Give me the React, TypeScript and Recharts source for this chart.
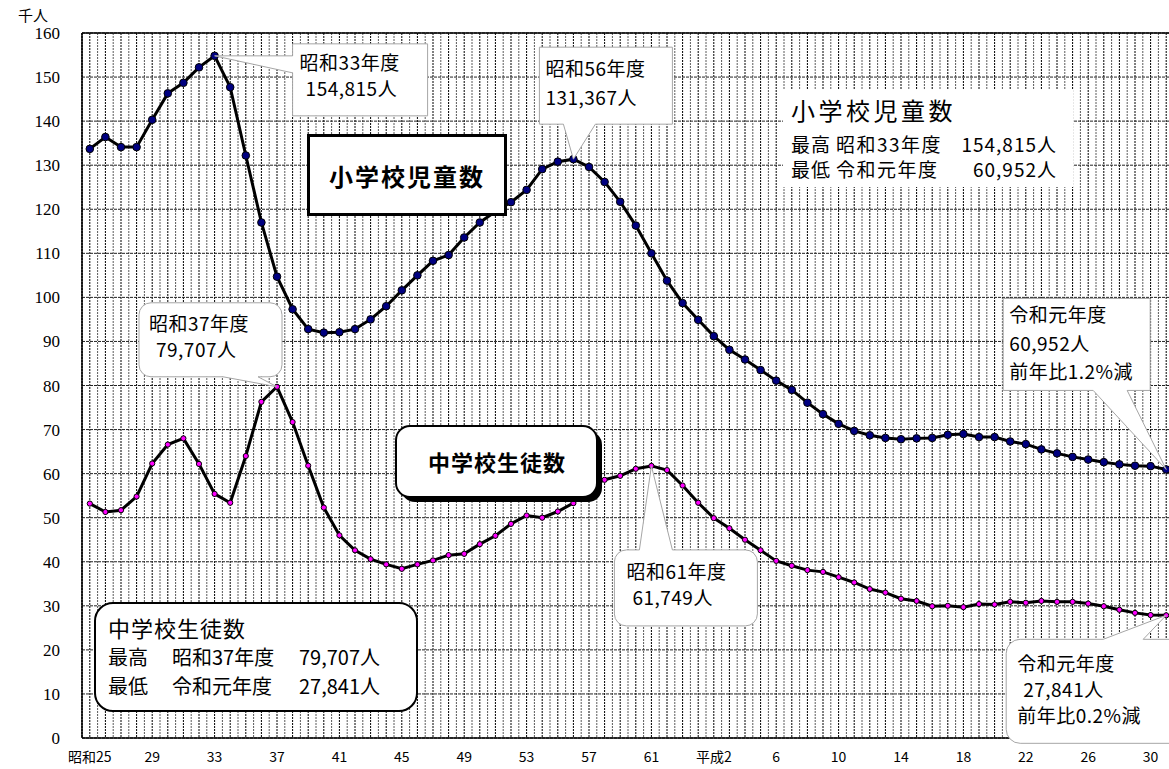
import React from "react";
import {
  LineChart, Line, XAxis, YAxis, CartesianGrid, ReferenceDot, ReferenceLine,
} from "recharts";

// 年度 (昭和25〜令和元)
const YEARS = [
  1950, 1951, 1952, 1953, 1954, 1955, 1956, 1957, 1958, 1959,
  1960, 1961, 1962, 1963, 1964, 1965, 1966, 1967, 1968, 1969,
  1970, 1971, 1972, 1973, 1974, 1975, 1976, 1977, 1978, 1979,
  1980, 1981, 1982, 1983, 1984, 1985, 1986, 1987, 1988, 1989,
  1990, 1991, 1992, 1993, 1994, 1995, 1996, 1997, 1998, 1999,
  2000, 2001, 2002, 2003, 2004, 2005, 2006, 2007, 2008, 2009,
  2010, 2011, 2012, 2013, 2014, 2015, 2016, 2017, 2018, 2019,
];

// 小学校児童数 (千人)
const ELEMENTARY = [
  133.7, 136.4, 134.1, 134.1, 140.3, 146.3, 148.7, 152.2, 154.815, 147.7,
  132.2, 117.0, 104.7, 97.3, 92.8, 92.0, 92.1, 92.8, 95.0, 98.0,
  101.6, 105.0, 108.3, 109.6, 113.6, 117.0, 119.5, 121.6, 124.4, 129.1,
  130.8, 131.367, 129.6, 126.2, 121.7, 116.3, 110.0, 103.8, 98.7, 94.9,
  91.2, 88.1, 85.9, 83.5, 81.1, 79.0, 76.1, 73.5, 71.3, 69.7,
  68.7, 68.1, 67.8, 68.0, 68.1, 68.8, 69.0, 68.3, 68.3, 67.3,
  66.7, 65.5, 64.6, 63.8, 63.2, 62.6, 62.1, 61.8, 61.7, 60.952,
];

// 中学校生徒数 (千人)
const JUNIOR_HIGH = [
  53.2, 51.3, 51.7, 54.8, 62.3, 66.6, 68.0, 62.2, 55.4, 53.4,
  64.0, 76.3, 79.707, 71.7, 61.8, 52.3, 46.0, 42.6, 40.6, 39.4,
  38.4, 39.4, 40.3, 41.5, 41.8, 44.0, 45.9, 48.6, 50.5, 50.0,
  51.4, 53.3, 57.0, 58.6, 59.5, 61.1, 61.749, 60.8, 57.3, 53.4,
  49.9, 47.6, 45.0, 42.6, 40.2, 39.1, 38.1, 37.7, 36.5, 35.3,
  33.8, 33.0, 31.6, 31.1, 29.9, 30.0, 29.7, 30.4, 30.3, 30.9,
  30.7, 31.1, 30.9, 30.9, 30.5, 29.9, 29.1, 28.4, 27.9, 27.841,
];

const TICK_YEARS = [1950, 1954, 1958, 1962, 1966, 1970, 1974, 1978, 1982, 1986, 1990, 1994, 1998, 2002, 2006, 2010, 2014, 2018];
const TICK_LABELS = ["昭和25", "29", "33", "37", "41", "45", "49", "53", "57", "61", "平成2", "6", "10", "14", "18", "22", "26", "30"];
const Y_TICKS = [0, 10, 20, 30, 40, 50, 60, 70, 80, 90, 100, 110, 120, 130, 140, 150, 160];

const HALF_YEARS = YEARS.map((y) => y - 0.5);

const data = YEARS.map((year, i) => ({ year, elem: ELEMENTARY[i], jhs: JUNIOR_HIGH[i] }));

const JP = "'Noto Sans CJK JP', 'Noto Sans', sans-serif";

// callouts anchored to data points; box offsets are relative to the point
const CALLOUTS = [
  { key: "s33", series: ELEMENTARY, year: 1958, box: { dx: 78, dy: -12, w: 135, h: 72, r: 0 }, side: "left", base: [0, 17],
    lines: [["昭和33年度", 7, 26], ["154,815人", 13, 52]] },
  { key: "s56", series: ELEMENTARY, year: 1981, box: { dx: -34, dy: -112, w: 133, h: 77, r: 0 }, side: "bottom", base: [-10, 22],
    lines: [["昭和56年度", 6, 29], ["131,367人", 6, 58]] },
  { key: "s37", series: JUNIOR_HIGH, year: 1962, box: { dx: -138, dy: -84, w: 143, h: 74, r: 12 }, side: "bottom", base: [-54, -19],
    lines: [["昭和37年度", 10, 28], ["79,707人", 17, 54]] },
  { key: "s61", series: JUNIOR_HIGH, year: 1986, box: { dx: -37, dy: 84, w: 143, h: 76, r: 12 }, side: "top", base: [-12, 21],
    lines: [["昭和61年度", 12, 29], ["61,749人", 18, 55]] },
  { key: "r1e", series: ELEMENTARY, year: 2019, box: { dx: -163, dy: -171, w: 147, h: 92, r: 0 }, side: "bottom", base: [-73, -39],
    lines: [["令和元年度", 6, 24], ["60,952人", 6, 53], ["前年比1.2%減", 6, 81]] },
  { key: "r1j", series: JUNIOR_HIGH, year: 2019, box: { dx: -160, dy: 24, w: 180, h: 104, r: 14 }, side: "top", base: [-63, -23],
    lines: [["令和元年度", 11, 32], ["27,841人", 17, 58], ["前年比0.2%減", 11, 84]] },
];

function calloutPath(x, y, w, h, r, side, a, b, tx, ty) {
  let d = `M ${x + r} ${y}`;
  if (side === "top") d += ` L ${a} ${y} L ${tx} ${ty} L ${b} ${y}`;
  d += ` L ${x + w - r} ${y}`;
  if (r) d += ` A ${r} ${r} 0 0 1 ${x + w} ${y + r}`;
  d += ` L ${x + w} ${y + h - r}`;
  if (r) d += ` A ${r} ${r} 0 0 1 ${x + w - r} ${y + h}`;
  if (side === "bottom") d += ` L ${b} ${y + h} L ${tx} ${ty} L ${a} ${y + h}`;
  d += ` L ${x + r} ${y + h}`;
  if (r) d += ` A ${r} ${r} 0 0 1 ${x} ${y + h - r}`;
  if (side === "left") d += ` L ${x} ${b} L ${tx} ${ty} L ${x} ${a}`;
  d += ` L ${x} ${y + r}`;
  if (r) d += ` A ${r} ${r} 0 0 1 ${x + r} ${y}`;
  return d + " Z";
}

function Callout({ cx, cy, c }) {
  const x = cx + c.box.dx;
  const y = cy + c.box.dy;
  const ref = c.side === "left" ? cy : cx;
  const d = calloutPath(x, y, c.box.w, c.box.h, c.box.r, c.side, ref + c.base[0], ref + c.base[1], cx, cy);
  return (
    <g>
      <path d={d} fill="#fff" stroke="#a6a6a6" strokeWidth={1} />
      {c.lines.map(([t, lx, ly]) => (
        <text key={t} x={x + lx} y={y + ly} fontFamily={JP} fontSize={19} letterSpacing={0.5} fill="#000">{t}</text>
      ))}
    </g>
  );
}

export default function App() {
  return (
    <div style={{ position: "absolute", left: 0, top: 0, width: 1169, height: 769, overflow: "hidden", background: "#fff" }}>
      <LineChart width={1180} height={769} data={data} margin={{ top: 33, right: 6, bottom: 6, left: 8 }}>
        {/* hidden axes that only feed the dense vertical grid */}
        <XAxis xAxisId="yr" type="number" dataKey="year" domain={[1949.5, 2019.5]} ticks={YEARS} interval={0} tickFormatter={() => ""} allowDataOverflow hide />
        <XAxis xAxisId="half" type="number" dataKey="year" domain={[1949.5, 2019.5]} ticks={HALF_YEARS} interval={0} tickFormatter={() => ""} allowDataOverflow hide />
        <CartesianGrid xAxisId="half" horizontal={false} stroke="#5a5a5a" strokeDasharray="2 1" />
        <CartesianGrid xAxisId="yr" horizontal={false} stroke="#000" strokeDasharray="2 1" />
        <CartesianGrid vertical={false} stroke="#222" strokeDasharray="3 1" />
        <XAxis
          type="number"
          dataKey="year"
          domain={[1949.5, 2019.5]}
          allowDataOverflow
          ticks={TICK_YEARS}
          interval={0}
          tickFormatter={(v) => TICK_LABELS[TICK_YEARS.indexOf(v)]}
          tick={{ fill: "#000", fontFamily: JP, fontSize: 14 }}
          tickLine={false}
          tickSize={0}
          tickMargin={14}
          height={25}
          axisLine={{ stroke: "#000", strokeWidth: 1.5 }}
        />
        <YAxis
          domain={[0, 160]}
          ticks={Y_TICKS}
          interval={0}
          width={74}
          tick={{ fill: "#000", fontFamily: "'Liberation Serif', serif", fontSize: 17 }}
          tickLine={false}
          tickSize={0}
          tickMargin={22}
          axisLine={{ stroke: "#000", strokeWidth: 1.5 }}
        />
        <ReferenceLine y={160} stroke="#000" strokeWidth={1.5} />
        <Line
          dataKey="elem"
          stroke="#000"
          strokeWidth={3}
          dot={{ r: 3.8, fill: "#000080", stroke: "#000", strokeWidth: 1 }}
          isAnimationActive={false}
        />
        <Line
          dataKey="jhs"
          stroke="#000"
          strokeWidth={3}
          dot={{ r: 2.6, fill: "#ff00ff", stroke: "#000", strokeWidth: 1 }}
          isAnimationActive={false}
        />
        {CALLOUTS.map((c) => (
          <ReferenceDot
            key={c.key}
            x={c.year}
            y={c.series[YEARS.indexOf(c.year)]}
            r={0}
            ifOverflow="visible"
            zIndex={2000}
            shape={(p) => <Callout cx={p.cx} cy={p.cy} c={c} />}
          />
        ))}
      </LineChart>

      <svg width={1169} height={769} style={{ position: "absolute", left: 0, top: 0, pointerEvents: "none" }}>
        <text x={18} y={21} fontFamily={JP} fontSize={15} fill="#000">千人</text>

        {/* 小学校 summary */}
        <rect x={783} y={89} width={290} height={98} fill="#fff" />
        <text x={791} y={120} fontFamily={JP} fontSize={24} letterSpacing={3.5} fill="#000">小学校児童数</text>
        <text x={791} y={152} fontFamily={JP} fontSize={19} letterSpacing={1} fill="#000">最高</text>
        <text x={836} y={152} fontFamily={JP} fontSize={19} letterSpacing={1.5} fill="#000">昭和33年度</text>
        <text x={1057} y={152} fontFamily={JP} fontSize={19} letterSpacing={1} textAnchor="end" fill="#000">154,815人</text>
        <text x={791} y={177} fontFamily={JP} fontSize={19} letterSpacing={1} fill="#000">最低</text>
        <text x={836} y={177} fontFamily={JP} fontSize={19} letterSpacing={1.5} fill="#000">令和元年度</text>
        <text x={1057} y={177} fontFamily={JP} fontSize={19} letterSpacing={1} textAnchor="end" fill="#000">60,952人</text>

        {/* series labels */}
        <rect x={308.5} y={135.5} width={197} height={79} fill="#fff" stroke="#000" strokeWidth={3} />
        <text x={407} y={186} textAnchor="middle" fontFamily={JP} fontWeight={700} fontSize={24} letterSpacing={2} fill="#000">小学校児童数</text>

        <rect x={401} y={431} width={201} height={71} rx={14} fill="#000" />
        <rect x={396} y={426} width={201} height={71} rx={14} fill="#fff" stroke="#000" strokeWidth={2} />
        <text x={497} y={471} textAnchor="middle" fontFamily={JP} fontWeight={700} fontSize={22} letterSpacing={1} fill="#000">中学校生徒数</text>

        {/* 中学校 summary */}
        <rect x={95} y={603} width={322} height={108} rx={18} fill="#fff" stroke="#000" strokeWidth={2} />
        <text x={108} y={637} fontFamily={JP} fontSize={22} letterSpacing={1} fill="#000">中学校生徒数</text>
        <text x={108} y={665} fontFamily={JP} fontSize={20} fill="#000">最高</text>
        <text x={172} y={665} fontFamily={JP} fontSize={20} fill="#000">昭和37年度</text>
        <text x={380} y={665} fontFamily={JP} fontSize={20} textAnchor="end" fill="#000">79,707人</text>
        <text x={108} y={694} fontFamily={JP} fontSize={20} fill="#000">最低</text>
        <text x={172} y={694} fontFamily={JP} fontSize={20} fill="#000">令和元年度</text>
        <text x={380} y={694} fontFamily={JP} fontSize={20} textAnchor="end" fill="#000">27,841人</text>
      </svg>
    </div>
  );
}
